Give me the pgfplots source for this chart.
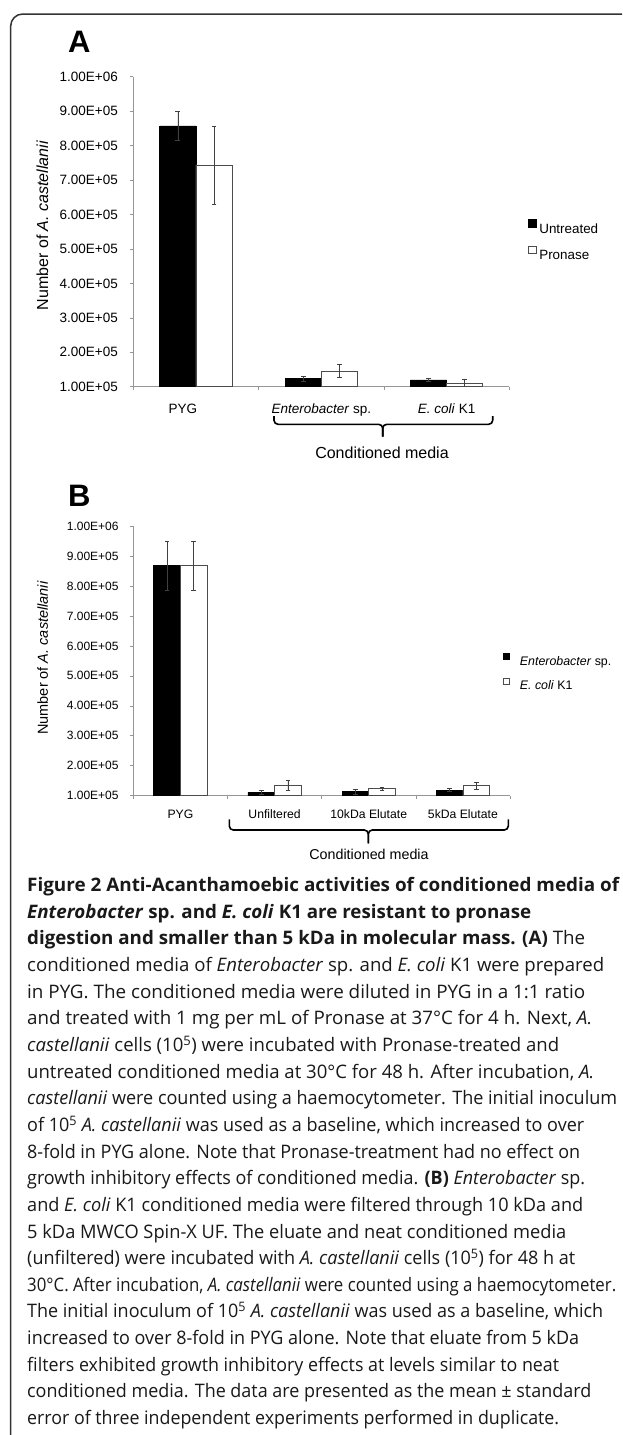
\documentclass[border=0pt]{standalone}
\usepackage{fontspec}
\usepackage{graphicx}
\usepackage{pgfplots}
\pgfplotsset{compat=1.18}
\setmainfont{Liberation Sans}
\newfontfamily\capfont{Open Sans}
\definecolor{axgray}{RGB}{150,150,150}
\pgfplotsset{
  sqlegendA/.style={legend image code/.code={\draw[##1,line width=0.6pt] (0pt,0.95pt) rectangle (8pt,8.65pt);}},
  sqlegendB/.style={legend image code/.code={\draw[##1,line width=0.6pt] (0pt,1.45pt) rectangle (6pt,7.45pt);}},
  excel/.style={
    scale only axis, anchor=south west,
    ymin=100000, ymax=1000000,
    ybar=0pt,
    axis lines=left,
    axis line style={-, draw=axgray, line width=0.8pt},
    tick align=outside, major tick length=3.5pt,
    tick style={draw=axgray, line width=0.6pt},
    x tick label as interval,
    ytick={100000,200000,300000,400000,500000,600000,700000,800000,900000,1000000},
    yticklabels={1.00E+05,2.00E+05,3.00E+05,4.00E+05,5.00E+05,6.00E+05,7.00E+05,8.00E+05,9.00E+05,1.00E+06},
    scaled y ticks=false,
    legend cell align=left,
    clip=true,
  },
  errs/.style={error bars/.cd, y dir=both, y explicit,
    error bar style={black!75, line width=0.6pt},
    error mark options={black!75, mark size=2.4pt, line width=0.6pt, rotate=90}},
}
\begin{document}
\begin{tikzpicture}
\useasboundingbox (0pt,0pt) rectangle (622pt,-1435pt);
\fill[white] (0pt,0pt) rectangle (622pt,-1435pt);
% frame
\draw[line width=1.5pt, black!80] (10.7pt,-1435pt) -- (10.7pt,-26pt) arc[start angle=180,end angle=90,radius=12pt] -- (622pt,-14pt);

% ---------------- Panel A ----------------
\begin{axis}[excel,
  at={(133.3pt,-386.7pt)}, width=376pt, height=310pt,
  xmin=0, xmax=3, bar width=36.2pt,
  xtick={0,1,2,3},
  xticklabels={{PYG\hspace*{26pt}},{\textit{Enterobacter} sp.},{\textit{E. coli} K1}},
  xticklabel style={font=\fontsize{13.5pt}{15pt}\selectfont, anchor=base, inner sep=0pt, yshift=-22.8pt},
  yticklabel style={font=\fontsize{13.5pt}{15pt}\selectfont, anchor=east, inner sep=0pt, xshift=-11.8pt},
  ylabel={Number of \textit{A. castellanii}},
  ylabel style={at={(axis description cs:-0.2415,0.52)}, anchor=center, font=\fontsize{16pt}{18pt}\selectfont},
  legend style={at={(1.049,0.4755)}, anchor=west, draw=none, fill=none, inner sep=0pt, outer sep=0pt,
    font=\fontsize{13.4pt}{15pt}\selectfont, row sep=12.4pt, column sep=3pt,
    nodes={inner sep=0pt, text height=9.6pt, text depth=0pt}},
]
\addplot[fill=black, draw=black, line width=0.6pt, sqlegendA, errs] coordinates {
  (0.5,857000) +- (0,43000)
  (1.5,123000) +- (0,8000)
  (2.5,119500) +- (0,4500)
};
\addplot[fill=white, draw=black!70, line width=0.7pt, sqlegendA, errs] coordinates {
  (0.5,744000) +- (0,113000)
  (1.5,146000) +- (0,19000)
  (2.5,111000) +- (0,11500)
};
\legend{Untreated,Pronase}
\end{axis}

% ---------------- Panel B ----------------
\begin{axis}[excel,
  at={(133.3pt,-795.7pt)}, width=376.7pt, height=269.7pt,
  xmin=0, xmax=4, bar width=26.7pt,
  xtick={0,1,2,3,4},
  xticklabels={PYG,Unfiltered,10kDa Elutate,5kDa Elutate},
  xticklabel style={font=\fontsize{12.2pt}{14pt}\selectfont, anchor=base, inner sep=0pt, yshift=-19.3pt},
  yticklabel style={font=\fontsize{12pt}{14pt}\selectfont, anchor=east, inner sep=0pt, xshift=-11pt},
  ylabel={Number of \textit{A. castellanii}},
  ylabel style={at={(axis description cs:-0.2403,0.5106)}, anchor=center, font=\fontsize{14.5pt}{16pt}\selectfont},
  legend style={at={(0.9806,0.461)}, anchor=west, draw=none, fill=none, inner sep=0pt, outer sep=0pt,
    font=\fontsize{12.4pt}{14pt}\selectfont, row sep=12.4pt, column sep=10.6pt,
    nodes={inner sep=0pt, text height=8.9pt, text depth=0pt}},
]
\addplot[fill=black, draw=black, line width=0.6pt, sqlegendB, errs] coordinates {
  (0.5,867500) +- (0,83000)
  (1.5,111300) +- (0,6500)
  (2.5,113500) +- (0,8500)
  (3.5,119000) +- (0,5000)
};
\addplot[fill=white, draw=black!70, line width=0.7pt, sqlegendB, errs] coordinates {
  (0.5,867500) +- (0,82500)
  (1.5,134700) +- (0,16000)
  (2.5,124500) +- (0,5000)
  (3.5,133400) +- (0,13000)
};
\legend{{\textit{Enterobacter} sp.},{\textit{E. coli} K1}}
\end{axis}

% panel letters
\node[anchor=base west, inner sep=0pt, font=\bfseries\fontsize{31pt}{33pt}\selectfont] at (68pt,-52.7pt) {A};
\node[anchor=base west, inner sep=0pt, font=\bfseries\fontsize{31pt}{33pt}\selectfont] at (68pt,-506.7pt) {B};

% braces
\draw[line width=1.6pt, rounded corners=4pt] (274pt,-416pt) -- (274pt,-424.3pt) -- (382.7pt,-424.3pt) -- (382.7pt,-436.7pt);
\draw[line width=1.6pt, rounded corners=4pt] (492.7pt,-416pt) -- (492.7pt,-424.3pt) -- (382.7pt,-424.3pt) -- (382.7pt,-436.7pt);
\node[font=\fontsize{16pt}{18pt}\selectfont, inner sep=0pt, anchor=base] at (382pt,-458.5pt) {Conditioned media};
\draw[line width=1.6pt, rounded corners=4pt] (229.3pt,-819.3pt) -- (229.3pt,-830pt) -- (368.3pt,-830pt) -- (368.3pt,-843.3pt);
\draw[line width=1.6pt, rounded corners=4pt] (508.3pt,-819.3pt) -- (508.3pt,-830pt) -- (368.3pt,-830pt) -- (368.3pt,-843.3pt);
\node[font=\fontsize{14.3pt}{16pt}\selectfont, inner sep=0pt, anchor=base] at (369pt,-859.5pt) {Conditioned media};

% caption
\begin{scope}[every node/.style={anchor=base west, inner sep=0pt, font=\capfont\fontsize{18.6pt}{20pt}\selectfont, text=black!90}]
\def\L#1#2#3{\node at (27pt,{-891.7pt-#1*26.64pt}) {\resizebox{#2pt}{\height}{#3}};}
\L{0}{592}{\bfseries Figure 2 Anti-Acanthamoebic activities of conditioned media of}
\L{1}{504}{\bfseries\textit{Enterobacter} sp. and \textit{E. coli} K1 are resistant to pronase}
\L{2}{558}{\textbf{digestion and smaller than 5 kDa in molecular mass. (A)} The}
\L{3}{577}{conditioned media of \textit{Enterobacter} sp. and \textit{E. coli} K1 were prepared}
\L{4}{558}{in PYG. The conditioned media were diluted in PYG in a 1:1 ratio}
\L{5}{565}{and treated with 1 mg per mL of Pronase at 37°C for 4 h. Next, \textit{A.}}
\L{6}{532}{\textit{castellanii} cells (10\textsuperscript{5}) were incubated with Pronase-treated and}
\L{7}{567}{untreated conditioned media at 30°C for 48 h. After incubation, \textit{A.}}
\L{8}{590}{\textit{castellanii} were counted using a haemocytometer. The initial inoculum}
\L{9}{557}{of 10\textsuperscript{5} \textit{A. castellanii} was used as a baseline, which increased to over}
\L{10}{553}{8-fold in PYG alone. Note that Pronase-treatment had no effect on}
\L{11}{558}{growth inhibitory effects of conditioned media. \textbf{(B)} \textit{Enterobacter} sp.}
\L{12}{556}{and \textit{E. coli} K1 conditioned media were filtered through 10 kDa and}
\L{13}{539}{5 kDa MWCO Spin-X UF. The eluate and neat conditioned media}
\L{14}{548}{(unfiltered) were incubated with \textit{A. castellanii} cells (10\textsuperscript{5}) for 48 h at}
\L{15}{589}{30°C. After incubation, \textit{A. castellanii} were counted using a haemocytometer.}
\L{16}{576}{The initial inoculum of 10\textsuperscript{5} \textit{A. castellanii} was used as a baseline, which}
\L{17}{552}{increased to over 8-fold in PYG alone. Note that eluate from 5 kDa}
\L{18}{532}{filters exhibited growth inhibitory effects at levels similar to neat}
\L{19}{564}{conditioned media. The data are presented as the mean ± standard}
\L{20}{532}{error of three independent experiments performed in duplicate.}
\end{scope}
\end{tikzpicture}
\end{document}
